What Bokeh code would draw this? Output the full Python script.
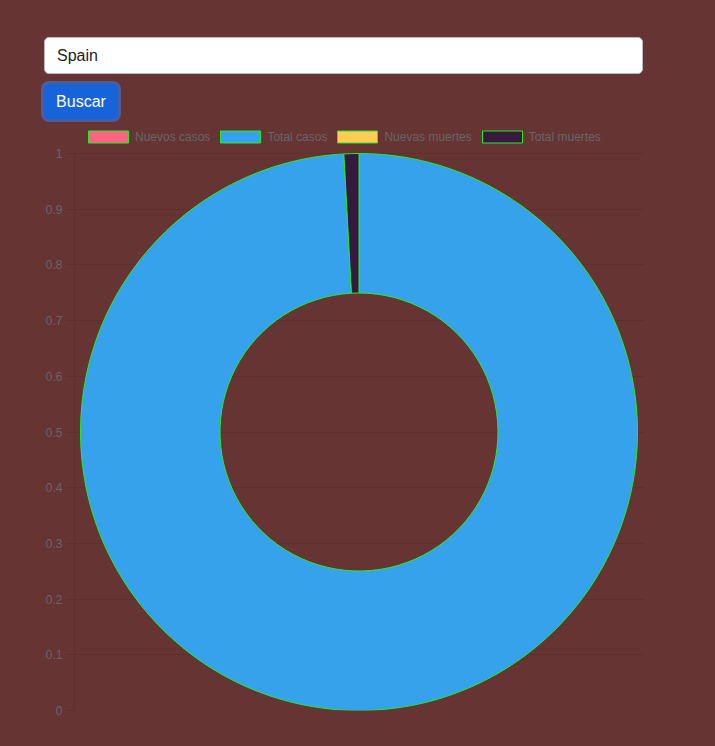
import numpy as np
from bokeh.plotting import figure
from bokeh.models import (Range1d, FixedTicker, Legend, LegendItem, Div, ColumnDataSource,
                          CDSView, BooleanFilter)
from bokeh.layouts import column
from bokeh.embed import file_html
from bokeh.resources import INLINE

# ---- data ----
country = "Spain"
button_label = "Buscar"
categories = ["Nuevos casos", "Total casos", "Nuevas muertes", "Total muertes"]
values = [0, 13980340, 0, 121852]
colors = ["#ff6384", "#36a2eb", "#ffcd56", "#36193f"]
y_ticks = [0, 0.1, 0.2, 0.3, 0.4, 0.5, 0.6, 0.7, 0.8, 0.9, 1]
y_tick_labels = ["0", "0.1", "0.2", "0.3", "0.4", "0.5", "0.6", "0.7", "0.8", "0.9", "1"]

BG = "#673434"
GRID = "#5d2f2f"
FONT = "Liberation Sans"
BORDER = "#22ee22"

vals = np.array(values, dtype=float)
frac = vals / vals.sum()
cum = np.concatenate([[0], np.cumsum(frac)])
start = np.pi / 2 - 2 * np.pi * cum[:-1]
end = np.pi / 2 - 2 * np.pi * cum[1:]

src = ColumnDataSource(dict(
    x=[0.0] * len(categories),
    y=[(y_ticks[0] + y_ticks[-1]) / 2] * len(categories),
    start=list(start), end=list(end), color=colors, label=categories,
))
view = CDSView(filter=BooleanFilter([v > 0 for v in values]))

HEADER_H = 125
header = Div(
    text=f"""
<div style="position:relative;width:715px;height:{HEADER_H}px;background:{BG};">
  <div style="position:absolute;left:44px;top:37px;width:599px;height:37px;box-sizing:border-box;
       background:#ffffff;border:1px solid #b9b9c2;border-radius:5px;
       font-family:'{FONT}',Arial,sans-serif;font-size:16px;color:#212121;
       padding-left:12px;line-height:35px;">{country}</div>
  <div style="position:absolute;left:41px;top:81px;width:80px;height:41px;box-sizing:border-box;
       background:#1763d9;border:3px solid #4d5c9b;border-radius:8px;
       font-family:'{FONT}',Arial,sans-serif;font-size:16px;color:#ffffff;
       text-align:center;line-height:35px;">{button_label}</div>
</div>""",
    width=715, height=HEADER_H, margin=0,
    styles={"background-color": BG},
)

FIG_H = 746 - HEADER_H
BOTTOM = 36
frame_h = FIG_H - BOTTOM          # 585 px of frame
plot_h = 557                      # px between tick 0 and tick 1
y_top = y_ticks[-1] * frame_h / plot_h

p = figure(width=715, height=FIG_H, output_backend="svg", toolbar_location=None,
           x_range=Range1d(-1, 1), y_range=Range1d(y_ticks[0], y_top),
           min_border_left=74, min_border_right=72, min_border_top=0,
           min_border_bottom=BOTTOM, margin=0)
p.background_fill_color = BG
p.border_fill_color = BG
p.outline_line_color = None

p.xaxis.visible = False
p.xgrid.visible = False
p.ygrid.grid_line_color = GRID
p.ygrid.grid_line_width = 1

ya = p.yaxis[0]
ya.ticker = FixedTicker(ticks=y_ticks)
ya.bounds = (y_ticks[0], y_ticks[-1])
ya.major_label_overrides = {t: l for t, l in zip(y_ticks, y_tick_labels)}
ya.axis_line_color = GRID
ya.major_tick_line_color = GRID
ya.minor_tick_line_color = None
ya.major_tick_out = 8
ya.major_tick_in = 0
ya.major_label_standoff = 4
ya.major_label_text_color = "#666666"
ya.major_label_text_font = FONT
ya.major_label_text_font_size = "12px"

wedge_kw = dict(x="x", y="y", inner_radius=139, outer_radius=278.5,
                inner_radius_units="screen", outer_radius_units="screen",
                start_angle="start", end_angle="end", direction="clock",
                fill_color="color", line_color=BORDER, line_width=1, source=src)

# visible slices (zero-size slices are skipped)
p.annular_wedge(view=view, **wedge_kw)
# legend swatches for every category
r_leg = p.annular_wedge(visible=False, **wedge_kw)

items = [LegendItem(label=c, renderers=[r_leg], index=i) for i, c in enumerate(categories)]
legend = Legend(items=items, orientation="horizontal", location=(9, frame_h - 19),
                glyph_width=50, glyph_height=15, label_height=15,
                label_standoff=2, spacing=5, padding=0, margin=0,
                background_fill_alpha=0, border_line_alpha=0,
                inactive_fill_alpha=0,
                label_text_font=FONT, label_text_font_size="12px",
                label_text_color="#666666")
p.add_layout(legend, "center")

layout = column(header, p, spacing=0, margin=0, styles={"background-color": BG})
open("out.html", "w").write(file_html(layout, INLINE))
